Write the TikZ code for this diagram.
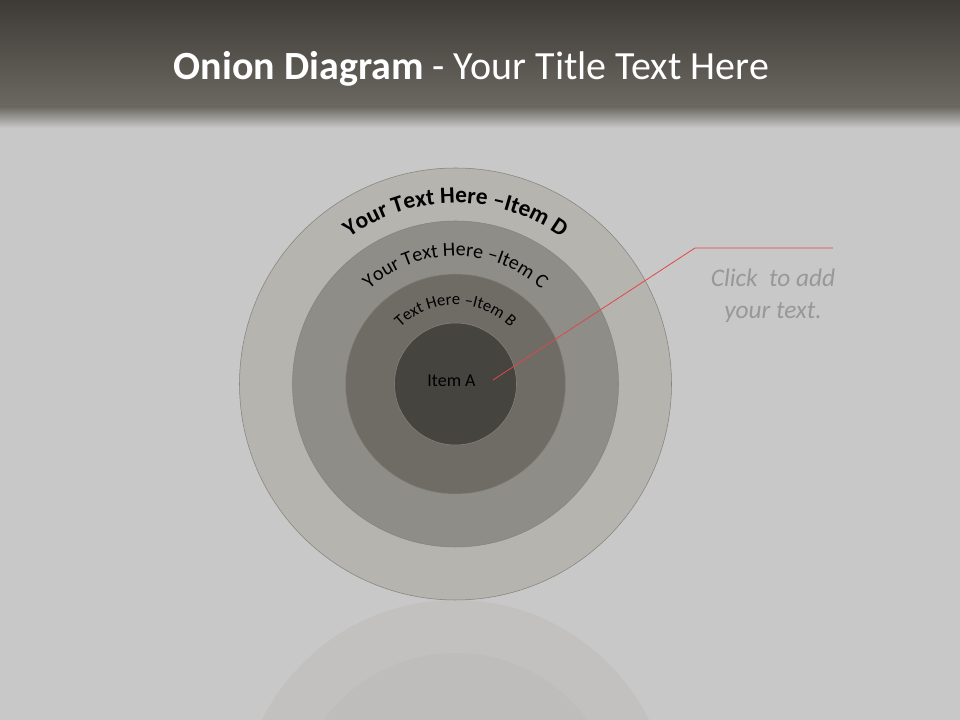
\documentclass[tikz,border=0pt]{standalone}
\usepackage{fontspec}
\setmainfont{Carlito}
\usepackage{tikz}
\usetikzlibrary{decorations.text}
\definecolor{slidebg}{HTML}{C9C8C8}
\definecolor{bartop}{HTML}{3E3B36}
\definecolor{barbottom}{HTML}{6C6963}
\definecolor{ringD}{HTML}{B6B4AF}
\definecolor{ringC}{HTML}{8F8D88}
\definecolor{ringB}{HTML}{6F6C66}
\definecolor{ringA}{HTML}{46443F}
\definecolor{ringline}{HTML}{85837E}
\definecolor{pinred}{HTML}{E04848}
\definecolor{hintgray}{HTML}{999898}

\begin{document}
\begin{tikzpicture}[x=0.75pt, y=0.75pt,
    ring/.style={draw=ringline, line width=0.4pt, circle, inner sep=0pt, outer sep=0pt},
    mirror/.style={draw=none},
    arclabel/.style={decorate, decoration={text along path, text align=center, text color=black}}]
  \useasboundingbox (0,0) rectangle (960,720);
  % slide background and title bar
  \fill[slidebg] (0,0) rectangle (960,720);
  \shade[top color=bartop, bottom color=barbottom] (0,720) rectangle (960,612);
  \shade[top color=barbottom, bottom color=slidebg] (0,613) rectangle (960,592);
  \node[anchor=base, text=white, font=\fontsize{30}{36}\selectfont] (title) at (471.5,640)
    {\textbf{Onion Diagram} - Your Title Text Here};

  % reflection under the onion
  \begin{scope}
    \clip (0,0) rectangle (960,120);
    \fill[mirror, fill=ringD!35!slidebg] (455.5,-96) circle (216);
    \fill[mirror, fill=ringC!18!slidebg] (455.5,-96) circle (163);
    \fill[mirror, fill=ringB!12!slidebg] (455.5,-96) circle (110);
  \end{scope}

  % the onion (sizes in px, 1px = 0.75pt)
  \coordinate (core) at (455.5,336);
  \node[ring, fill=ringD, minimum size=324pt] (itemD) at (core) {};
  \node[ring, fill=ringC, minimum size=244.5pt] (itemC) at (core) {};
  \node[ring, fill=ringB, minimum size=165pt] (itemB) at (core) {};
  \node[ring, fill=ringA, minimum size=91.5pt] (itemA) at (core) {};
  \node[font=\fontsize{13.5}{16}\selectfont, text=black] (labelA) at (451.5,339) {Item A};

  \path[arclabel, decoration={text={|\bfseries\fontsize{17.5}{17.5}\selectfont|Your Text Here –Item D}}]
    (core) ++(180:181) arc[start angle=180, end angle=0, radius=181];
  \path[arclabel, decoration={text={|\fontsize{15}{15}\selectfont|Your Text Here –Item C}}]
    (core) ++(180:128) arc[start angle=180, end angle=0, radius=128];
  \path[arclabel, decoration={text={|\fontsize{12.5}{12.5}\selectfont|Text Here –Item B}}]
    (core) ++(180:79) arc[start angle=180, end angle=0, radius=79];

  % callout
  \coordinate (pin) at (493,340);
  \coordinate (elbow) at (695,472);
  \coordinate (tail) at (833,472);
  \draw[pinred, line width=0.6pt] (pin) -- (elbow) -- (tail);
  \node[align=center, text=hintgray, font=\itshape\fontsize{19}{24}\selectfont] (hint) at (773,424)
    {Click\ \ to add\\your text.};
\end{tikzpicture}
\end{document}
